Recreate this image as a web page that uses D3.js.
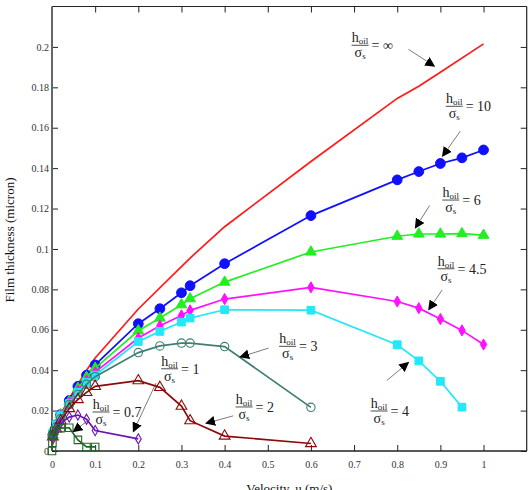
<!DOCTYPE html>
<html>
<head>
<meta charset="utf-8">
<script src="https://cdn.jsdelivr.net/npm/d3@7/dist/d3.min.js"></script>
<style>
  html, body { margin: 0; padding: 0; background: #fff; }
  svg { display: block; }
</style>
</head>
<body>
<svg id="chart" width="532" height="490"></svg>
<script>
// ---------------- data ----------------
const xTicks = [0, 0.1, 0.2, 0.3, 0.4, 0.5, 0.6, 0.7, 0.8, 0.9, 1];
const yTicks = [0, 0.02, 0.04, 0.06, 0.08, 0.1, 0.12, 0.14, 0.16, 0.18, 0.2];

const uInf = [0, 0.005, 0.01, 0.02, 0.04, 0.06, 0.08, 0.1, 0.2, 0.32, 0.4, 0.6, 0.8, 0.85, 0.9, 1.0];
const hInf = [0.003, 0.009, 0.013, 0.018, 0.026, 0.033, 0.040, 0.046, 0.0703, 0.0955, 0.111, 0.1433, 0.1745, 0.1805, 0.1875, 0.2015];

const uMain = [0.002, 0.01, 0.02, 0.04, 0.06, 0.08, 0.1, 0.2, 0.25, 0.3, 0.32, 0.4, 0.6, 0.8, 0.85, 0.9, 0.95, 1.0];
const h10  = [0.008, 0.013, 0.018, 0.025, 0.032, 0.0375, 0.0426, 0.063, 0.0704, 0.0783, 0.0818, 0.0927, 0.1165, 0.1342, 0.1383, 0.1423, 0.1451, 0.149];
const h6   = [0.008, 0.013, 0.018, 0.0245, 0.031, 0.0365, 0.041, 0.0595, 0.0658, 0.0724, 0.0754, 0.0836, 0.0985, 0.1063, 0.1074, 0.1074, 0.1076, 0.1068];
const h45  = [0.008, 0.013, 0.0175, 0.024, 0.030, 0.035, 0.039, 0.0559, 0.062, 0.0671, 0.0696, 0.0752, 0.081, 0.074, 0.0707, 0.0653, 0.0597, 0.0527];
const u4   = [0.002, 0.01, 0.02, 0.04, 0.06, 0.08, 0.1, 0.2, 0.25, 0.3, 0.32, 0.4, 0.6, 0.8, 0.85, 0.9, 0.95];
const h4   = [0.009, 0.013, 0.0175, 0.0235, 0.029, 0.034, 0.0375, 0.0542, 0.0592, 0.0638, 0.0658, 0.0699, 0.0697, 0.0526, 0.0446, 0.0345, 0.0217];

const uLow = [0.002, 0.01, 0.02, 0.04, 0.06, 0.08, 0.1, 0.2, 0.25, 0.3, 0.32, 0.4, 0.6];
const h3   = [0.008, 0.012, 0.016, 0.023, 0.028, 0.033, 0.0368, 0.0487, 0.052, 0.0534, 0.0534, 0.0517, 0.0216];
const h2   = [0.007, 0.011, 0.015, 0.021, 0.0255, 0.029, 0.032, 0.0348, 0.0315, 0.0222, 0.015, 0.0074, 0.0037];

const u07  = [0.002, 0.01, 0.02, 0.04, 0.06, 0.08, 0.1, 0.2];
const h07  = [0.006, 0.010, 0.0138, 0.0168, 0.0178, 0.0157, 0.0101, 0.006];

const u1   = [0, 0.001, 0.002, 0.005, 0.02, 0.04, 0.06, 0.08, 0.1];
const h1   = [0, 0.004, 0.008, 0.010, 0.0113, 0.0115, 0.0055, 0.002, 0.002];

// series definitions
const series = [
  {u: uInf, h: hInf, color: "#ff1a1a", marker: null},
  {u: uMain, h: h10, color: "#1010ff", marker: "circle", fill: true},
  {u: uMain, h: h6, color: "#22ee22", marker: "triangle", fill: true},
  {u: uMain, h: h45, color: "#ff10ff", marker: "diamond", fill: true},
  {u: u4, h: h4, color: "#22e8f8", marker: "square", fill: true},
  {u: uLow, h: h3, color: "#3f7f72", marker: "circle", fill: false},
  {u: uLow, h: h2, color: "#8e0a0a", marker: "triangle", fill: false},
  {u: u07, h: h07, color: "#6a14b4", marker: "diamond", fill: false},
  {u: u1, h: h1, color: "#25652a", marker: "square", fill: false}
];

// annotation labels (value text, label centre in data units, arrow from -> to)
const labelText = ["∞", "10", "6", "4.5", "3", "4", "2", "1", "0.7"];
const labelU    = [0.714, 0.932, 0.924, 0.913, 0.546, 0.758, 0.445, 0.2725, 0.1136];
const labelH    = [0.2008, 0.1706, 0.1242, 0.0902, 0.0518, 0.0198, 0.0218, 0.0407, 0.0193];
const arrowU0   = [0.826, 0.946, 0.875, 0.904, 0.5016, 0.776, 0.420, 0.241, 0.0828];
const arrowH0   = [0.1988, 0.1583, 0.1215, 0.0797, 0.0509, 0.0349, 0.0174, 0.0336, 0.0150];
const arrowU1   = [0.886, 0.905, 0.842, 0.873, 0.436, 0.826, 0.357, 0.1885, 0.0494];
const arrowH1   = [0.1905, 0.1459, 0.1104, 0.0699, 0.0465, 0.0438, 0.0137, 0.0096, 0.0096];

// ---------------- layout ----------------
const FONT = "'Liberation Serif', 'Times New Roman', Tinos, 'DejaVu Serif', serif";
const svg = d3.select("#chart").attr("font-family", FONT);
const L = 52, R = 526.7, T = 6.5, B = 451;
const x = d3.scaleLinear().domain([0, 1.1]).range([L, R]);
const y = d3.scaleLinear().domain([0, 0.22]).range([B, T]);

const fmt = d => d === 0 ? "0" : String(+d.toFixed(2));

// ticks (inward) on all four sides
const axB = d3.axisBottom(x).tickValues(xTicks).tickSizeInner(-6).tickSizeOuter(0).tickPadding(10).tickFormat(fmt);
const axT = d3.axisTop(x).tickValues(xTicks).tickSizeInner(-6).tickSizeOuter(0).tickFormat("");
const axL = d3.axisLeft(y).tickValues(yTicks).tickSizeInner(-6).tickSizeOuter(0).tickPadding(3).tickFormat(fmt);
const axR = d3.axisRight(y).tickValues(yTicks).tickSizeInner(-6).tickSizeOuter(0).tickFormat("");

function styleAxis(g) {
  g.attr("font-family", FONT).attr("font-size", 10);
  g.select(".domain").remove();
  g.selectAll(".tick line").attr("stroke", "#222").attr("stroke-width", 1);
  g.selectAll(".tick text").attr("fill", "#333").attr("font-family", FONT).attr("font-size", 10);
}
svg.append("g").attr("transform", `translate(0,${B})`).call(axB).call(styleAxis);
svg.append("g").attr("transform", `translate(0,${T})`).call(axT).call(styleAxis);
svg.append("g").attr("transform", `translate(${L},0)`).call(axL).call(styleAxis);
svg.append("g").attr("transform", `translate(${R},0)`).call(axR).call(styleAxis);

// frame
svg.append("line").attr("x1", L).attr("x2", R).attr("y1", T).attr("y2", T).attr("stroke", "#222").attr("stroke-width", 1.2);
svg.append("line").attr("x1", L).attr("x2", R).attr("y1", B).attr("y2", B).attr("stroke", "#222").attr("stroke-width", 1.4);
svg.append("line").attr("x1", R).attr("x2", R).attr("y1", T).attr("y2", B).attr("stroke", "#222").attr("stroke-width", 1.2);
svg.append("line").attr("x1", L).attr("x2", L).attr("y1", T).attr("y2", B).attr("stroke", "#666").attr("stroke-width", 2);

// axis titles
svg.append("text").attr("x", (L + R) / 2).attr("y", 493).attr("text-anchor", "middle")
  .attr("font-family", FONT).attr("font-size", 13).attr("fill", "#111").text("Velocity, u (m/s)");
svg.append("text").attr("transform", "translate(14,240) rotate(-90)").attr("text-anchor", "middle")
  .attr("font-family", FONT).attr("font-size", 13).attr("fill", "#111").text("Film thickness (micron)");

// ---------------- series ----------------
const line = d3.line().x(d => x(d[0])).y(d => y(d[1]));
const sym = {
  circle: d3.symbolCircle, triangle: d3.symbolTriangle,
  diamond: d3.symbolDiamond, square: d3.symbolSquare
};

series.forEach(s => {
  const pts = s.u.map((u, i) => [u, s.h[i]]);
  svg.append("path").datum(pts).attr("d", line)
    .attr("fill", "none").attr("stroke", s.color).attr("stroke-width", 1.7);
  if (s.marker) {
    let size;
    if (s.fill) size = {circle: 75, triangle: 50, diamond: 36, square: 60}[s.marker];
    else size = {circle: 55, triangle: 50, diamond: 30, square: 56}[s.marker];
    svg.append("g").selectAll("path").data(pts).join("path")
      .attr("transform", d => `translate(${x(d[0])},${y(d[1])})`)
      .attr("d", d3.symbol().type(sym[s.marker]).size(size))
      .attr("fill", s.fill ? s.color : "none")
      .attr("stroke", s.color).attr("stroke-width", s.fill ? 1 : 1.1);
  }
});

// ---------------- annotations ----------------
const defs = svg.append("defs");
defs.append("marker").attr("id", "ah").attr("viewBox", "0 0 10 10")
  .attr("refX", 9).attr("refY", 5).attr("markerWidth", 10).attr("markerHeight", 10)
  .attr("markerUnits", "userSpaceOnUse").attr("orient", "auto")
  .append("path").attr("d", "M0,0 L10,5 L0,10 Z").attr("fill", "#000");

labelText.forEach((t, i) => {
  svg.append("line")
    .attr("x1", x(arrowU0[i])).attr("y1", y(arrowH0[i]))
    .attr("x2", x(arrowU1[i])).attr("y2", y(arrowH1[i]))
    .attr("stroke", "#444").attr("stroke-width", 0.7).attr("marker-end", "url(#ah)");

  const cx = x(labelU[i]), by = y(labelH[i]);
  const g = svg.append("g").attr("fill", "#222").attr("font-family", FONT);
  const num = g.append("text").attr("x", cx).attr("y", by - 3).attr("text-anchor", "middle")
    .attr("font-size", 14);
  num.append("tspan").text("h");
  num.append("tspan").attr("dy", 2).attr("font-size", 9).text("oil");
  const den = g.append("text").attr("x", cx).attr("y", by + 12).attr("text-anchor", "middle")
    .attr("font-size", 14);
  den.append("tspan").text("σ");
  den.append("tspan").attr("dy", 2).attr("font-size", 9).text("s");
  const w = 17;
  g.append("line").attr("x1", cx - w / 2).attr("x2", cx + w / 2).attr("y1", by).attr("y2", by)
    .attr("stroke", "#222").attr("stroke-width", 0.8);
  g.append("text").attr("x", cx + w / 2 + 3).attr("y", by + 5)
    .attr("font-size", 14).text("= " + t);
});
</script>
</body>
</html>
